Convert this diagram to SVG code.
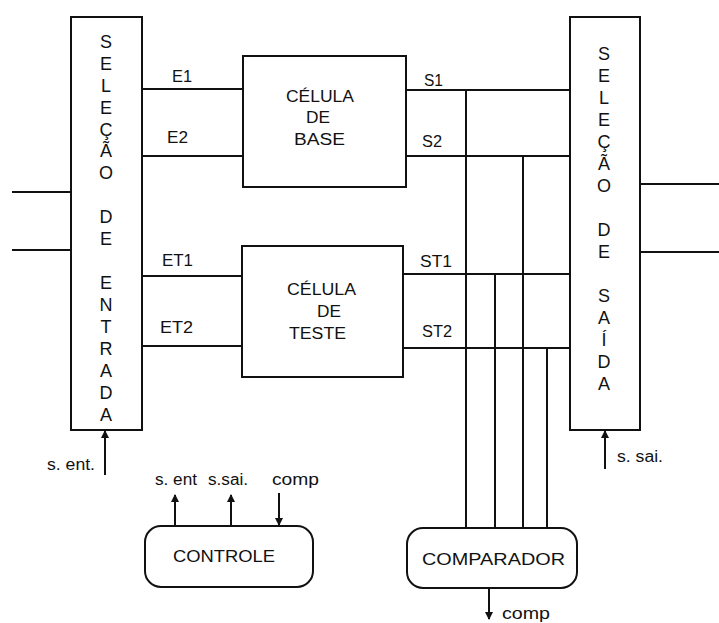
<svg xmlns="http://www.w3.org/2000/svg" width="719" height="623" viewBox="0 0 719 623">
<style>
.box{fill:#fff;stroke:#111;stroke-width:2}
.ln{stroke:#111;stroke-width:2;fill:none}
.t{font-family:"Liberation Sans",Arial,sans-serif;fill:#111;font-size:16px}
.v{font-family:"Liberation Sans",Arial,sans-serif;fill:#111;font-size:18px;text-anchor:middle}
</style>
<defs>
<marker id="ah" markerUnits="userSpaceOnUse" markerWidth="8" markerHeight="8" refX="7" refY="4" orient="auto">
<path d="M0,0 L8,4 L0,8 z" fill="#111"/>
</marker>
</defs>
<rect width="719" height="623" fill="#fff"/>
<g id="connectors">
<line class="ln" x1="12" y1="192" x2="71" y2="192"/>
<line class="ln" x1="12" y1="250" x2="71" y2="250"/>
<line class="ln" x1="142" y1="89" x2="243" y2="89"/>
<line class="ln" x1="142" y1="156" x2="243" y2="156"/>
<line class="ln" x1="142" y1="276" x2="242" y2="276"/>
<line class="ln" x1="142" y1="346" x2="242" y2="346"/>
<line class="ln" x1="406" y1="90" x2="570" y2="90"/>
<line class="ln" x1="406" y1="156" x2="570" y2="156"/>
<line class="ln" x1="403" y1="274" x2="570" y2="274"/>
<line class="ln" x1="403" y1="348" x2="570" y2="348"/>
<line class="ln" x1="466" y1="90" x2="466" y2="528"/>
<line class="ln" x1="523" y1="156" x2="523" y2="528"/>
<line class="ln" x1="495" y1="274" x2="495" y2="528"/>
<line class="ln" x1="547" y1="348" x2="547" y2="528"/>
<line class="ln" x1="640" y1="184" x2="719" y2="184"/>
<line class="ln" x1="640" y1="252" x2="719" y2="252"/>
<line class="ln" x1="105" y1="475" x2="105" y2="431" marker-end="url(#ah)"/>
<line class="ln" x1="605" y1="469" x2="605" y2="431" marker-end="url(#ah)"/>
<line class="ln" x1="175" y1="526" x2="175" y2="495" marker-end="url(#ah)"/>
<line class="ln" x1="231" y1="526" x2="231" y2="495" marker-end="url(#ah)"/>
<line class="ln" x1="279" y1="493" x2="279" y2="525" marker-end="url(#ah)"/>
<line class="ln" x1="489" y1="588" x2="489" y2="619" marker-end="url(#ah)"/>
<text class="t" x="172" y="82" textLength="20" lengthAdjust="spacingAndGlyphs">E1</text>
<text class="t" x="167" y="143" textLength="21" lengthAdjust="spacingAndGlyphs">E2</text>
<text class="t" x="162" y="266" textLength="31" lengthAdjust="spacingAndGlyphs">ET1</text>
<text class="t" x="160" y="333" textLength="33" lengthAdjust="spacingAndGlyphs">ET2</text>
<text class="t" x="424" y="86" textLength="19" lengthAdjust="spacingAndGlyphs">S1</text>
<text class="t" x="422" y="147" textLength="20" lengthAdjust="spacingAndGlyphs">S2</text>
<text class="t" x="420" y="267" textLength="32" lengthAdjust="spacingAndGlyphs">ST1</text>
<text class="t" x="422" y="337" textLength="30" lengthAdjust="spacingAndGlyphs">ST2</text>
<text class="t" x="47" y="470" textLength="48" lengthAdjust="spacingAndGlyphs">s. ent.</text>
<text class="t" x="617" y="462" textLength="46" lengthAdjust="spacingAndGlyphs">s. sai.</text>
<text class="t" x="155" y="485" textLength="42" lengthAdjust="spacingAndGlyphs">s. ent</text>
<text class="t" x="208" y="485" textLength="40" lengthAdjust="spacingAndGlyphs">s.sai.</text>
<text class="t" x="272" y="485" textLength="47" lengthAdjust="spacingAndGlyphs">comp</text>
<text class="t" x="502" y="619" textLength="48" lengthAdjust="spacingAndGlyphs">comp</text>
</g>
<g id="selecao-entrada">
<rect class="box" x="71" y="17" width="71" height="413"/>
<text class="v" x="106"><tspan x="106" y="48">S</tspan><tspan x="106" y="70">E</tspan><tspan x="106" y="92">L</tspan><tspan x="106" y="114">E</tspan><tspan x="106" y="136">Ç</tspan><tspan x="106" y="157">Ã</tspan><tspan x="106" y="179">O</tspan><tspan x="106" y="223">D</tspan><tspan x="106" y="245">E</tspan><tspan x="106" y="289">E</tspan><tspan x="106" y="311">N</tspan><tspan x="106" y="333">T</tspan><tspan x="106" y="355">R</tspan><tspan x="106" y="377">A</tspan><tspan x="106" y="399">D</tspan><tspan x="106" y="421">A</tspan></text>
</g>
<g id="selecao-saida">
<rect class="box" x="570" y="17" width="70" height="413"/>
<text class="v" x="604"><tspan x="604" y="60">S</tspan><tspan x="604" y="82">E</tspan><tspan x="604" y="104">L</tspan><tspan x="604" y="126">E</tspan><tspan x="604" y="148">Ç</tspan><tspan x="604" y="170">Ã</tspan><tspan x="604" y="192">O</tspan><tspan x="604" y="236">D</tspan><tspan x="604" y="258">E</tspan><tspan x="604" y="302">S</tspan><tspan x="604" y="324">A</tspan><tspan x="604" y="346">Í</tspan><tspan x="604" y="368">D</tspan><tspan x="604" y="390">A</tspan></text>
</g>
<g id="celula-base">
<rect class="box" x="243" y="56" width="163" height="131"/>
<text class="t" x="286" y="102" textLength="68" lengthAdjust="spacingAndGlyphs">CÉLULA</text>
<text class="t" x="306" y="123" textLength="24" lengthAdjust="spacingAndGlyphs">DE</text>
<text class="t" x="294" y="145" textLength="51" lengthAdjust="spacingAndGlyphs">BASE</text>
</g>
<g id="celula-teste">
<rect class="box" x="242" y="246" width="161" height="131"/>
<text class="t" x="287" y="295" textLength="69" lengthAdjust="spacingAndGlyphs">CÉLULA</text>
<text class="t" x="317" y="317" textLength="24" lengthAdjust="spacingAndGlyphs">DE</text>
<text class="t" x="289" y="339" textLength="57" lengthAdjust="spacingAndGlyphs">TESTE</text>
</g>
<g id="controle">
<rect class="box" x="145" y="526" width="168" height="61" rx="16"/>
<text class="t" x="173" y="562" textLength="102" lengthAdjust="spacingAndGlyphs">CONTROLE</text>
</g>
<g id="comparador">
<rect class="box" x="407" y="528" width="170" height="60" rx="16"/>
<text class="t" x="422" y="565" textLength="143" lengthAdjust="spacingAndGlyphs">COMPARADOR</text>
</g>
</svg>
